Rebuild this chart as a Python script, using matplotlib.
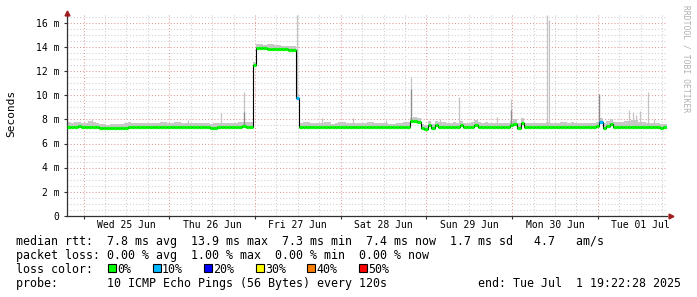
import numpy as np
import matplotlib
matplotlib.use("Agg")
import matplotlib.pyplot as plt
import matplotlib.dates as mdates
from matplotlib.patches import Rectangle
from datetime import datetime, timedelta

# ---------------- data ----------------
START = datetime(2025, 6, 24, 19, 22, 28)
END = datetime(2025, 7, 1, 19, 22, 28)

# hourly median rtt (ms), starting at START
median_ms = [
    7.40, 7.38, 7.40, 7.42, 7.40, 7.38, 7.40, 7.38, 7.35,
    7.30, 7.30, 7.28, 7.30, 7.32, 7.30, 7.28, 7.30,
    7.38, 7.40, 7.40, 7.38, 7.38, 7.40, 7.40, 7.38, 7.38, 7.40, 7.40, 7.38,
    7.38, 7.38, 7.40, 7.40, 7.38, 7.38, 7.40, 7.38, 7.38, 7.40, 7.40,
    7.30, 7.32, 7.35,
    7.38, 7.38, 7.40, 7.40, 7.38, 7.40, 7.42, 7.40, 7.40,
    12.50,
    13.95, 13.95, 13.92, 13.90, 13.90, 13.88, 13.88, 13.85, 13.85, 13.82, 13.80,
    9.80,
    7.38, 7.36, 7.36, 7.38, 7.36, 7.36, 7.38, 7.38, 7.36, 7.36, 7.38, 7.36,
    7.36, 7.38, 7.38, 7.36, 7.36, 7.38, 7.38, 7.36, 7.36, 7.38, 7.38, 7.40,
    7.38, 7.36, 7.36, 7.38, 7.38, 7.36, 7.38,
    7.85, 7.90, 7.80,
    7.30, 7.25, 7.55, 7.30, 7.55, 7.35,
    7.40, 7.38, 7.38, 7.40, 7.38,
    7.55,
    7.38, 7.38, 7.40,
    7.55,
    7.38, 7.38, 7.40, 7.38, 7.38, 7.36, 7.38, 7.38, 7.40,
    7.50, 7.65, 7.30, 7.70, 7.35,
    7.38, 7.38, 7.36, 7.38, 7.38, 7.40, 7.38, 7.38, 7.36, 7.36, 7.38, 7.38,
    7.40, 7.38, 7.38, 7.36, 7.38, 7.40, 7.40,
    7.45, 7.75, 7.30, 7.45, 7.60, 7.40,
    7.38, 7.38, 7.36, 7.36, 7.38, 7.36, 7.35, 7.36, 7.34, 7.34, 7.35, 7.34,
    7.33, 7.34,
]

# hours with packet loss and their loss class (index into loss_colors)
loss_hours = [64, 149]
loss_class = [1, 1]

# smoke spread above the median, one value per 2 hours (ms)
smoke_spread_2h = [
    0.35, 0.40, 0.30, 0.45, 0.35, 0.30, 0.30, 0.35, 0.40, 0.30, 0.35, 0.30, 0.30,
    0.35, 0.35, 0.40, 0.30, 0.30, 0.30, 0.30, 0.35, 0.35, 0.30, 0.30, 0.40, 0.35,
    0.30, 0.30, 0.35, 0.30, 0.30, 0.30,
    0.35, 0.40, 0.35, 0.35, 0.45, 0.30, 0.40, 0.35, 0.35, 0.30, 0.40, 0.35, 0.30,
    0.30, 0.35, 0.40,
    0.30, 0.35, 0.30, 0.35, 0.40, 0.35, 0.35, 0.30, 0.35, 0.40, 0.35, 0.30, 0.35,
    0.30, 0.35,
    0.40, 0.35, 0.35, 0.30, 0.35, 0.35, 0.40, 0.35, 0.30, 0.35, 0.30, 0.35, 0.40,
    0.40, 0.45, 0.55, 0.60, 0.45, 0.40, 0.35, 0.30,
]

# isolated smoke spikes: hours after START, top (ms), top of dark part (ms, 0 = none)
spike_hours = [7.0, 34.0, 43.1, 49.6, 64.4, 71.5, 80.0, 89.3, 96.3, 104.5,
               109.8, 120.5, 124.3, 134.5, 135.0, 149.0, 157.4, 158.5, 159.3,
               160.5, 162.7, 164.4]
spike_top_ms = [8.05, 7.95, 8.5, 10.3, 16.7, 8.1, 8.1, 7.95, 11.5, 8.0,
                9.9, 8.2, 9.7, 16.7, 16.3, 10.1, 8.8, 8.6, 8.4,
                8.7, 10.3, 8.0]
spike_dark_ms = [0, 0, 0, 8.6, 0, 0, 0, 0, 10.5, 0,
                 0, 0, 8.8, 0, 0, 10.1, 0, 0, 0,
                 0, 0, 0]

y_ticks_ms = [0, 2, 4, 6, 8, 10, 12, 14, 16]

loss_labels = ["0%", "10%", "20%", "30%", "40%", "50%"]
loss_colors = ["#00ff00", "#00b8ff", "#0000ff", "#ffff00", "#ff8000", "#ff0000"]

legend_median = "median rtt:  7.8 ms avg  13.9 ms max  7.3 ms min  7.4 ms now  1.7 ms sd   4.7   am/s"
legend_loss = "packet loss: 0.00 % avg  1.00 % max  0.00 % min  0.00 % now"
legend_probe = "probe:       10 ICMP Echo Pings (56 Bytes) every 120s"
legend_end = "end: Tue Jul  1 19:22:28 2025"

# ---------------- figure ----------------
W, H = 697, 297
fig = plt.figure(figsize=(W / 100, H / 100), dpi=100)
fig.patch.set_facecolor("white")

PX_PER_MS = 12.0
Y_TOP = 16.9
ax_left, ax_right, ax_bottom = 67, 667, 215.5
ax_h = Y_TOP * PX_PER_MS
ax = fig.add_axes([ax_left / W, (H - ax_bottom) / H,
                   (ax_right - ax_left) / W, ax_h / H])
ax.set_facecolor("white")

mono = "DejaVu Sans Mono"
t0 = mdates.date2num(START)
t1 = mdates.date2num(END)
ax.set_xlim(t0, t1)
ax.set_ylim(0, Y_TOP)

n = len(median_ms)
edges = t0 + np.arange(n + 1) / 24.0
med = np.array(median_ms)

# grid
ax.xaxis.set_major_locator(mdates.DayLocator())
ax.xaxis.set_minor_locator(mdates.HourLocator(byhour=[6, 12, 18]))
ax.set_yticks(y_ticks_ms)
ax.set_yticks(np.arange(0.5, Y_TOP, 0.5), minor=True)
dot = (0, (1, 2))
ax.grid(True, which="minor", color="#cfcfcf", lw=0.75, ls=dot, zorder=0)
ax.grid(True, which="major", color="#e39a9a", lw=0.75, ls=dot, zorder=0)
ax.set_axisbelow(True)

# smoke
spread = np.array([smoke_spread_2h[i // 2] for i in range(n)])
ax.bar(edges[:-1], spread + 0.08, width=1 / 24.0, bottom=med - 0.08,
       align="edge", color="#c8c8c8", lw=0, zorder=2)

# spikes
sp_t = t0 + np.array(spike_hours) / 24.0
sp_base = np.array([median_ms[int(h)] for h in spike_hours])
ax.vlines(sp_t, sp_base, spike_top_ms, color="#c4c4c4", lw=0.9, zorder=2.5)
dark = np.array(spike_dark_ms)
m = dark > 0
ax.vlines(sp_t[m], sp_base[m], dark[m], color="#8a8a8a", lw=0.9, zorder=2.6)

# median: black step + coloured segments
ax.step(edges, np.append(med, med[-1]), where="post", color="black",
        lw=0.8, zorder=3)
seg_colors = [loss_colors[0]] * n
for h, c in zip(loss_hours, loss_class):
    seg_colors[h] = loss_colors[c]
ax.hlines(med, edges[:-1], edges[1:], colors=seg_colors, lw=2.3, zorder=4,
          capstyle="butt")

# spines & ticks
for s in ["top", "right"]:
    ax.spines[s].set_visible(False)
ax.spines["left"].set_color("#303030")
ax.spines["bottom"].set_color("#303030")
ax.spines["left"].set_linewidth(0.9)
ax.spines["bottom"].set_linewidth(0.9)
ax.tick_params(axis="both", which="major", length=2.5, width=0.8,
               color="#303030", direction="out")
ax.tick_params(axis="both", which="minor", length=0)
ax.tick_params(axis="x", labelbottom=False)
ax.tick_params(axis="y", labelsize=7, pad=3)
ax.set_yticklabels(["0" if v == 0 else f"{v} m" for v in y_ticks_ms],
                   fontfamily=mono)

# day labels at noon
day = datetime(START.year, START.month, START.day) + timedelta(days=1)
while day < END:
    noon = day + timedelta(hours=12)
    if noon < END:
        ax.text(mdates.date2num(noon), -(227.5 - ax_bottom) / PX_PER_MS,
                noon.strftime("%a %d %b"), ha="center", va="baseline",
                fontsize=7, fontfamily=mono, color="black", clip_on=False)
    day += timedelta(days=1)

# axis arrows
arrow_c = "#a01c1c"
ax.plot([0], [1.0], marker="^", color=arrow_c, ms=3.5, transform=ax.transAxes,
        clip_on=False, zorder=6)
ax.plot([1.007], [0], marker=">", color=arrow_c, ms=3.5, transform=ax.transAxes,
        clip_on=False, zorder=6)

# y label and watermark
fig.text(11 / W, 1 - 113 / H, "Seconds", rotation=90, ha="center", va="center",
         fontsize=8, fontfamily=mono)
fig.text(686 / W, 1 - 5 / H, "RRDTOOL / TOBI OETIKER", rotation=270,
         ha="center", va="top", fontsize=5.8, fontfamily=mono, color="#b0b0b0")

# legend
FS = 8.4
CH = 7.0
def ftext(x, y, s, **kw):
    fig.text(x / W, 1 - y / H, s, fontsize=FS, fontfamily=mono,
             va="baseline", **kw)

ftext(16, 245, legend_median)
ftext(16, 259, legend_loss)
ftext(16, 273, "loss color:")
bx = 108.0
for lab, col in zip(loss_labels, loss_colors):
    fig.patches.append(Rectangle((bx / W, 1 - 272 / H), 8 / W, 8 / H,
                                 transform=fig.transFigure, facecolor=col,
                                 edgecolor="black", lw=0.8))
    ftext(bx + 9.5, 273, lab)
    bx = bx + 9.5 + CH * len(lab) + 3 * CH
ftext(16, 287, legend_probe)
ftext(681, 287, legend_end, ha="right")

fig.savefig("out.png", dpi=100, facecolor="white")
